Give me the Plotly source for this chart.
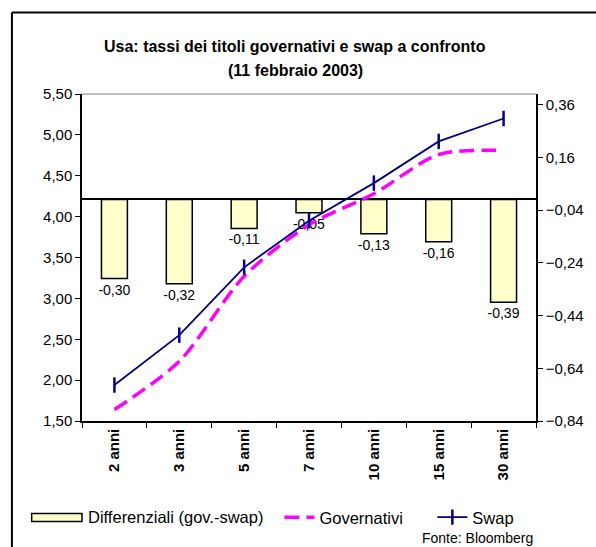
import plotly.graph_objects as go

# Scadenze e tassi (11 febbraio 2003)
scadenze = ["2 anni", "3 anni", "5 anni", "7 anni", "10 anni", "15 anni", "30 anni"]
swap = [1.94, 2.55, 3.38, 3.95, 4.41, 4.92, 5.20]
governativi = [1.64, 2.23, 3.27, 3.90, 4.28, 4.76, 4.81]
differenziali = [-0.30, -0.32, -0.11, -0.05, -0.13, -0.16, -0.39]

# Etichette degli assi
tick_sx = [1.5, 2.0, 2.5, 3.0, 3.5, 4.0, 4.5, 5.0, 5.5]
tick_dx = [-0.84, -0.64, -0.44, -0.24, -0.04, 0.16, 0.36]

FONT = "Liberation Sans, Arial, sans-serif"

fig = go.Figure()

# Differenziali: barre sull'asse destro
fig.add_trace(go.Bar(
    x=scadenze, y=differenziali, name="Differenziali (gov.-swap)",
    yaxis="y", width=0.4,
    marker=dict(color="#FFFFCC", line=dict(color="black", width=1.5)),
    text=differenziali, texttemplate="%{y:.2f}", textposition="outside",
    constraintext="none",
    textfont=dict(family=FONT, size=14, color="black"),
    cliponaxis=False, showlegend=False,
))

# Governativi: linea tratteggiata smussata sull'asse sinistro
fig.add_trace(go.Scatter(
    x=scadenze, y=governativi, name="Governativi", yaxis="y2",
    mode="lines", line=dict(color="#FF00FF", width=3.5, dash="15px,7px",
                            shape="spline", smoothing=0.8),
    legend="legend2",
))

# Swap: linea continua con marcatori verticali
fig.add_trace(go.Scatter(
    x=scadenze, y=swap, name="Swap", yaxis="y2",
    mode="lines+markers", line=dict(color="#000080", width=1.8),
    marker=dict(symbol="line-ns", size=11, line=dict(color="#000080", width=2.5)),
    legend="legend3",
))

L, R, T, B = 82, 54, 94, 124
W, H = 596, 547
pw, ph = W - L - R, H - T - B


def px(xpix):
    return (xpix - L) / pw


def py(ypix):
    return (H - B - ypix) / ph


LEG_Y = 520

legend_common = dict(orientation="h", yanchor="middle", y=py(LEG_Y),
                     font=dict(family=FONT, size=16.5, color="black"),
                     bgcolor="rgba(0,0,0,0)", borderwidth=0)

fig.update_layout(
    width=W, height=H,
    margin=dict(l=L, r=R, t=T, b=B),
    paper_bgcolor="white", plot_bgcolor="white",
    separators=",.",
    font=dict(family=FONT, size=15, color="black"),
    bargap=0.6,
    xaxis=dict(
        type="category", showline=True, linecolor="black", linewidth=1.5,
        ticks="outside", tickson="boundaries", ticklen=5, tickcolor="black",
        tickangle=-90, tickfont=dict(family=FONT, size=15, color="black", weight="bold"),
        showgrid=False, zeroline=False, anchor="y2",
    ),
    yaxis=dict(
        side="right", range=[-0.84, 0.40], tickvals=tick_dx, tickformat=".2f",
        showline=True, linecolor="black", linewidth=1.5,
        ticks="outside", ticklen=5, tickcolor="black",
        showgrid=False, zeroline=True, zerolinecolor="black", zerolinewidth=1.5,
        tickfont=dict(family=FONT, size=15, color="black"),
    ),
    yaxis2=dict(
        side="left", overlaying="y", range=[1.5, 5.5], tickvals=tick_sx,
        tickformat=".2f", showline=True, linecolor="black", linewidth=1.5,
        ticks="outside", ticklen=5, tickcolor="black",
        showgrid=False, zeroline=False,
        tickfont=dict(family=FONT, size=15, color="black"),
    ),
    legend2=dict(x=px(282), xanchor="left", **legend_common),
    legend3=dict(x=px(437), xanchor="left", **legend_common),
    showlegend=True,
)

# Titolo su due righe
for testo, ypix in [("Usa: tassi dei titoli governativi e swap a confronto", 46),
                    ("(11 febbraio 2003)", 70)]:
    fig.add_annotation(text=f"<b>{testo}</b>", xref="paper", yref="paper",
                       x=px(298), y=py(ypix), xanchor="center", yanchor="middle",
                       showarrow=False, font=dict(family=FONT, size=16, color="black"))

# Voce di legenda delle barre (riquadro allungato)
fig.add_shape(type="rect", xref="paper", yref="paper",
              x0=px(31), x1=px(82), y0=py(LEG_Y - 4), y1=py(LEG_Y + 4),
              fillcolor="#FFFFCC", line=dict(color="black", width=1.5))
fig.add_annotation(text="Differenziali (gov.-swap)", xref="paper", yref="paper",
                   x=px(86), y=py(LEG_Y), xanchor="left", yanchor="middle",
                   showarrow=False, font=dict(family=FONT, size=16.5, color="black"))

# Bordo superiore grigio dell'area del grafico
fig.add_shape(type="line", xref="paper", yref="paper", x0=0, x1=1, y0=1, y1=1,
              line=dict(color="#808080", width=1))

# Cornice esterna del grafico
fig.add_shape(type="line", xref="paper", yref="paper",
              x0=px(11), x1=px(11), y0=py(12), y1=py(560),
              line=dict(color="black", width=2))
fig.add_shape(type="line", xref="paper", yref="paper",
              x0=px(11), x1=px(610), y0=py(12), y1=py(12),
              line=dict(color="black", width=2))

# Fonte
fig.add_annotation(text="Fonte: Bloomberg", xref="paper", yref="paper",
                   x=px(424), y=py(541), xanchor="left", yanchor="middle",
                   showarrow=False, font=dict(family=FONT, size=14, color="black"))

fig.write_html("out.html")
